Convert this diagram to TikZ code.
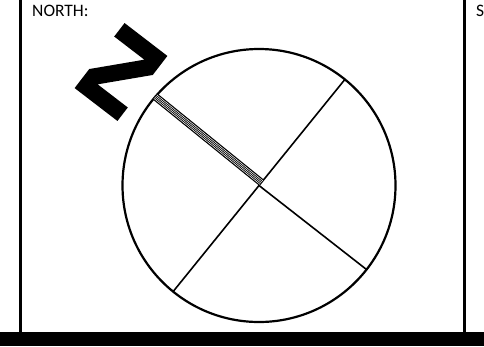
\documentclass[tikz,border=0pt]{standalone}
\usepackage{fontspec}
\setmainfont{Carlito}
\usetikzlibrary{calc}
\begin{document}
\begin{tikzpicture}[x=1pt,y=-1pt,
  lbl/.style={anchor=base west, inner sep=0pt, font=\fontsize{17.5}{20}\selectfont},
  frameline/.style={line width=3pt},
  dial/.style={circle, draw, line width=2.2pt, minimum size=273pt, inner sep=0pt, outer sep=0pt},
  spoke/.style={line width=1.6pt}]
\useasboundingbox (0,0) rectangle (484,346);
% frame
\draw[frameline] (20.5,0) -- (20.5,333);
\draw[frameline] (464.2,0) -- (464.2,333);
\fill (0,331.5) rectangle (484,346);
% labels
\node[lbl] (north) at (32,16.7) {NORTH:};
\node[lbl] (south) at (476,16.7) {S};
% dial
\node[dial] (c) at (259,185.5) {};
\draw[spoke] (c.51.6) -- (c.231.6);
\draw[spoke] (c.center) -- (c.-38.4);
% hatched north band
\coordinate (b1) at ($(c.center)!3.8pt!-90:(c.141.6)$);
\coordinate (b2) at ($(c.141.6)!3.8pt!90:(c.center)$);
\draw[line width=7.6pt] (b1) -- (b2);
\foreach \o in {-2.3,-0.77,0.77,2.3}{
  \draw[white, line width=0.5pt] ($(b1)!\o pt!90:(b2)$) -- ($(b2)!\o pt!-90:(b1)$);
}
% N letter
\begin{scope}[shift={(121,72)}, x={(0.609pt,0.793pt)}, y={(-0.793pt,0.609pt)}]
\fill (-41,-27) -- (-41,27) -- (-17,27) -- (24,-11) -- (24,27) -- (41,27)
  -- (41,-27) -- (17,-27) -- (-24,11) -- (-24,-27) -- cycle;
\end{scope}
\end{tikzpicture}
\end{document}
